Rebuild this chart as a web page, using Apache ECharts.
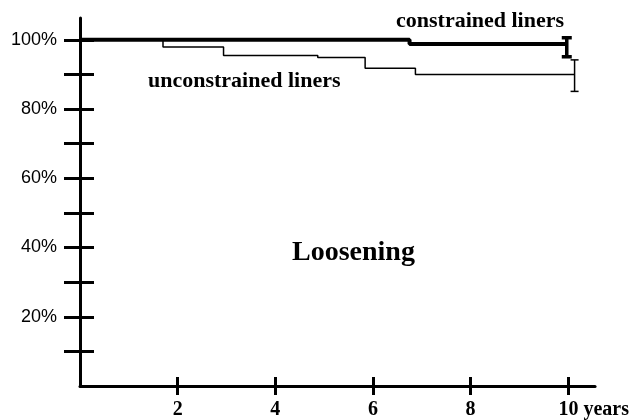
<!DOCTYPE html>
<html>
<head>
<meta charset="utf-8">
<script src="https://cdn.jsdelivr.net/npm/echarts@6/dist/echarts.min.js"></script>
<style>
  html, body { margin: 0; padding: 0; background: #fff; }
  #chart { width: 632px; height: 420px; }
</style>
</head>
<body>
<div id="chart"></div>
<script>
// survival data (years, %)
var constrained = [[0, 100], [6.75, 98.8], [9.97, 98.8]];
var unconstrained = [[0, 100], [1.7, 97.9], [2.94, 95.5], [4.87, 94.9], [5.84, 91.8], [6.87, 90.0], [10.13, 90.0]];
// error bars [x, low, high]
var constrainedErr = [[9.97, 95.1, 100.6]];
var unconstrainedErr = [[10.13, 85.1, 94.2]];
// ticks
var xTicks = [2, 4, 6, 8, 10];
var yTicks = [10, 20, 30, 40, 50, 60, 70, 80, 90, 100];
var yLabels = [20, 40, 60, 80, 100];

var myChart = echarts.init(document.getElementById('chart'));

function errRender(width, cap) {
    return function (params, api) {
        var x = api.value(0);
        var lo = api.coord([x, api.value(1)]);
        var hi = api.coord([x, api.value(2)]);
        var style = { stroke: '#000', lineWidth: width };
        return {
            type: 'group',
            children: [
                { type: 'line', shape: { x1: lo[0], y1: lo[1], x2: hi[0], y2: hi[1] }, style: style },
                { type: 'line', shape: { x1: lo[0] - cap, y1: lo[1], x2: lo[0] + cap, y2: lo[1] }, style: style },
                { type: 'line', shape: { x1: hi[0] - cap, y1: hi[1], x2: hi[0] + cap, y2: hi[1] }, style: style }
            ]
        };
    };
}

var serif = 'Liberation Serif';

var option = {
    animation: false,
    grid: { left: 80, right: 35, top: 18, bottom: 33 },
    xAxis: [{
        type: 'value', min: 0, max: 10.55,
        splitLine: { show: false },
        axisLine: { lineStyle: { color: '#000', width: 3 } },
        axisTick: { customValues: xTicks, length: 9, lineStyle: { color: '#000', width: 3 } },
        axisLabel: {
            customValues: xTicks,
            margin: 14,
            color: '#000',
            fontFamily: serif,
            fontWeight: 'bold',
            fontSize: 20,
            formatter: function (v) {
                return v === 10 ? '{pad|}10 years' : String(v);
            },
            rich: { pad: { width: 51 } }
        }
    }, {
        type: 'value', min: 0, max: 10.55, position: 'bottom',
        splitLine: { show: false },
        axisLine: { show: false },
        axisTick: { inside: true, customValues: xTicks, length: 9, lineStyle: { color: '#000', width: 3 } },
        axisLabel: { show: false }
    }],
    yAxis: [{
        type: 'value', min: 0, max: 106.3,
        splitLine: { show: false },
        axisLine: { lineStyle: { color: '#000', width: 3 } },
        axisTick: { customValues: yTicks, length: 16, lineStyle: { color: '#000', width: 3 } },
        axisLabel: {
            customValues: yLabels,
            margin: 23,
            color: '#000',
            fontFamily: 'Liberation Sans',
            fontSize: 18,
            formatter: '{value}%'
        }
    }, {
        type: 'value', min: 0, max: 106.3, position: 'left', offset: 0,
        splitLine: { show: false },
        axisLine: { show: false },
        axisTick: { inside: true, customValues: yTicks, length: 14, lineStyle: { color: '#000', width: 3 } },
        axisLabel: { show: false }
    }],
    graphic: [
        { type: 'text', left: 396, top: 10, style: { text: 'constrained liners', font: 'bold 22px "Liberation Serif"', fill: '#000' } },
        { type: 'text', left: 148, top: 70, style: { text: 'unconstrained liners', font: 'bold 22px "Liberation Serif"', fill: '#000' } },
        { type: 'text', left: 292, top: 239, style: { text: 'Loosening', font: 'bold 28px "Liberation Serif"', fill: '#000' } }
    ],
    series: [{
        name: 'unconstrained liners',
        type: 'line',
        step: 'end',
        data: unconstrained,
        symbol: 'none',
        lineStyle: { color: '#000', width: 1.5 }
    }, {
        name: 'constrained liners',
        type: 'line',
        step: 'end',
        data: constrained,
        symbol: 'none',
        lineStyle: { color: '#000', width: 4 }
    }, {
        type: 'custom',
        data: unconstrainedErr,
        encode: { x: 0, y: [1, 2] },
        renderItem: errRender(1.5, 4)
    }, {
        type: 'custom',
        data: constrainedErr,
        encode: { x: 0, y: [1, 2] },
        renderItem: errRender(3.5, 5)
    }]
};

myChart.setOption(option);
</script>
</body>
</html>
